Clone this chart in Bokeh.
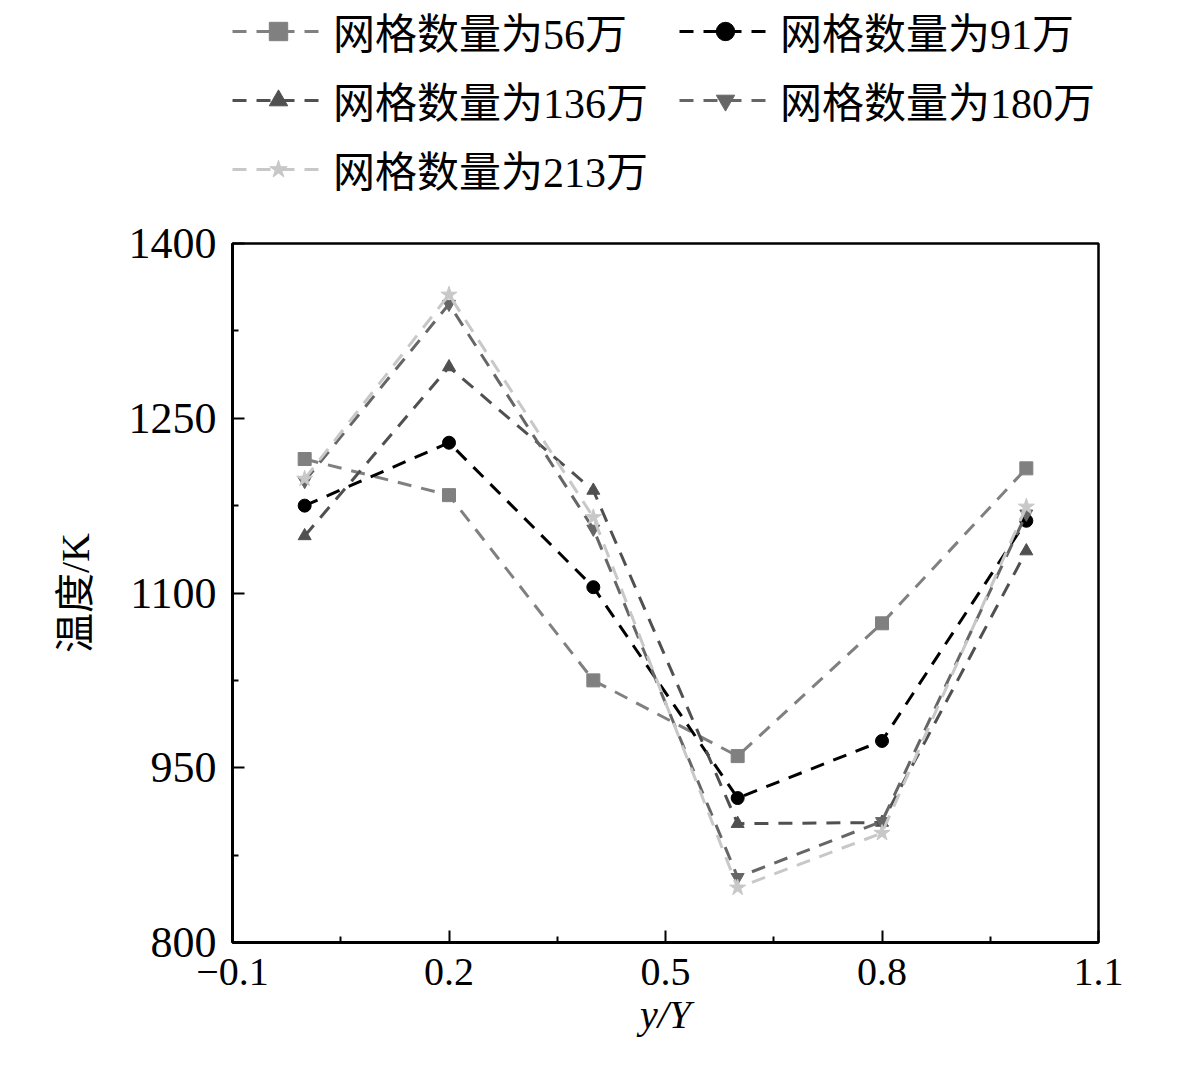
from bokeh.plotting import figure
from bokeh.models import Legend, LegendItem, FixedTicker
from bokeh.layouts import column
from bokeh.embed import file_html
from bokeh.resources import INLINE

x = [0.0, 0.2, 0.4, 0.6, 0.8, 1.0]
t56 = [1215, 1184, 1025, 960, 1074, 1207]
t91 = [1175, 1229, 1105, 924, 973, 1162]
t136 = [1149, 1294, 1188, 902, 903, 1136]
t180 = [1196, 1348, 1155, 856, 904, 1168]
t213 = [1198, 1356, 1165, 847, 894, 1174]

labels = ["网格数量为56万", "网格数量为91万", "网格数量为136万", "网格数量为180万", "网格数量为213万"]
series = [t56, t91, t136, t180, t213]
colors = ["#808080", "#000000", "#505050", "#666666", "#c8c8c8"]
markers = ["square", "circle", "triangle", "inverted_triangle", "star"]

x_ticks = [-0.1, 0.2, 0.5, 0.8, 1.1]
x_minor = [0.05, 0.35, 0.65, 0.95]
y_ticks = [800, 950, 1100, 1250, 1400]
y_minor = [875, 1025, 1175, 1325]

FONT = "'Liberation Serif', 'Noto Sans CJK SC', serif"
W = 1165
LEG_H = 200
MAIN_H = 853


def draw(fig):
    rs = []
    for ys, c, m in zip(series, colors, markers):
        r1 = fig.line(x, ys, line_color=c, line_width=3, line_dash="14 10")
        r2 = fig.scatter(x, ys, marker=m, size=13 if m != "star" else 17, fill_color=c, line_color=c)
        rs.append((r1, r2))
    return rs


# main plot
p = figure(width=W, height=MAIN_H, x_range=(-0.1, 1.1), y_range=(800, 1400),
           output_backend="svg", toolbar_location=None,
           min_border_left=232, min_border_right=67, min_border_top=43, min_border_bottom=111)
p.background_fill_color = "white"
p.border_fill_color = "white"
p.grid.visible = False
p.outline_line_color = "black"
p.outline_line_width = 2.5
draw(p)

for ax, fs in ((p.xaxis[0], "40px"), (p.yaxis[0], "44px")):
    ax.axis_line_width = 3
    ax.axis_line_color = "black"
    ax.major_tick_in = 12
    ax.major_tick_out = 0
    ax.minor_tick_in = 6
    ax.minor_tick_out = 0
    ax.major_tick_line_width = 2
    ax.minor_tick_line_width = 2
    ax.major_label_text_font = FONT
    ax.major_label_text_font_size = fs
    ax.major_label_text_color = "black"
    ax.axis_label_text_font = FONT
    ax.axis_label_text_font_size = "40px"
    ax.axis_label_text_color = "black"
    ax.axis_label_text_font_style = "normal"

p.xaxis[0].ticker = FixedTicker(ticks=x_ticks, minor_ticks=x_minor)
p.yaxis[0].ticker = FixedTicker(ticks=y_ticks, minor_ticks=y_minor)
p.xaxis[0].major_label_overrides = {-0.1: "−0.1", 0.2: "0.2", 0.5: "0.5", 0.8: "0.8", 1.1: "1.1"}
p.xaxis[0].axis_label = "y/Y"
p.xaxis[0].axis_label_text_font_style = "italic"
p.yaxis[0].axis_label = "温度/K"
p.xaxis[0].major_label_standoff = 16
p.yaxis[0].major_label_standoff = 16
p.xaxis[0].axis_label_standoff = 4
p.yaxis[0].axis_label_standoff = 28

# legend strip (series drawn outside its visible range, only the legend shows)
lf = figure(width=W, height=LEG_H, x_range=(10, 11), y_range=(0, 1),
            output_backend="svg", toolbar_location=None,
            x_axis_location=None, y_axis_location=None,
            min_border_left=0, min_border_right=0, min_border_top=0, min_border_bottom=0)
lf.grid.visible = False
lf.outline_line_color = None
lf.background_fill_color = "white"
lf.border_fill_color = "white"
rs = draw(lf)
items = [LegendItem(label=lab, renderers=[r1, r2]) for lab, (r1, r2) in zip(labels, rs)]
legend = Legend(items=items, location=(0, 1), orientation="horizontal", ncols=2,
                glyph_width=92, glyph_height=46, label_height=46, label_width=338,
                label_standoff=9, spacing=8, padding=0, margin=0,
                border_line_alpha=0, background_fill_alpha=0,
                label_text_font=FONT, label_text_font_size="42px", label_text_color="black")
lf.add_layout(legend, "center")

layout = column(lf, p, spacing=0)
open("out.html", "w").write(file_html(layout, INLINE))
